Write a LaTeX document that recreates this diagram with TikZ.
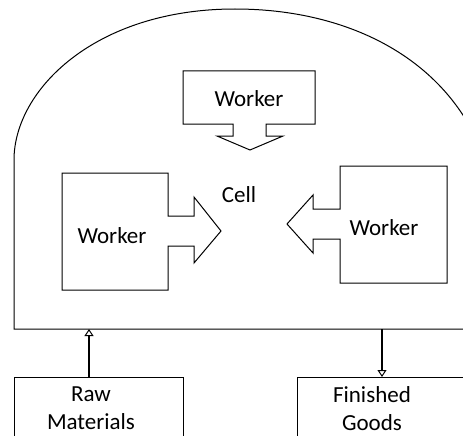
\documentclass[tikz,border=0pt]{standalone}
\usepackage{fontspec}
\setmainfont{Carlito}
\usetikzlibrary{arrows.meta}
\begin{document}
\begin{tikzpicture}[x=1pt,y=-1pt,line width=1pt,
    txt/.style={font=\fontsize{23}{28}\selectfont,align=center,inner sep=0pt},
    feed/.style={line width=2.6pt,-{Triangle[open,length=7pt,width=9pt,line width=1pt]}}]
    \clip (0,0) rectangle (463,436);
    % the cell
    \draw (500,329) -- (14,329) -- (14,160)
        .. controls (14,90) and (95,9) .. (235,9)
        .. controls (350,9) and (450,60) .. (485,160) -- (500,329);
    \coordinate (rawin) at (89,329);
    \coordinate (finout) at (382,329);
    \node[txt] (cell) at (239,195) {Cell};
    % workers
    \draw (183,71) -- (315,71) -- (315,124) -- (266,124) -- (266,136) -- (283,136)
        -- (250,150) -- (217,136) -- (233,136) -- (233,124) -- (183,124) -- cycle;
    \node[txt] (topworker) at (249,99) {Worker};
    \draw (62,173) -- (168,173) -- (168,216) -- (194,216) -- (194,197) -- (221,231)
        -- (194,263) -- (194,246) -- (168,246) -- (168,290) -- (62,290) -- cycle;
    \node[txt] (leftworker) at (112,236) {Worker};
    \draw (340,166) -- (447,166) -- (447,283) -- (340,283) -- (340,239) -- (313,239)
        -- (313,253) -- (287,224) -- (313,195) -- (313,209) -- (340,209) -- cycle;
    \node[txt] (rightworker) at (384,228) {Worker};
    % inputs and outputs
    \node[draw,minimum width=169pt,minimum height=110pt,anchor=north west] (rawbox) at (14,377) {};
    \node[txt,anchor=north] (raw) at (91,386) {Raw\\Materials};
    \node[draw,minimum width=170pt,minimum height=110pt,anchor=north west] (finbox) at (297,377) {};
    \node[txt,anchor=north] (fin) at (372,386) {Finished\\Goods};
    \draw[feed] (rawbox.north -| rawin) -- (rawin);
    \draw[feed] (finout) -- (finbox.north -| finout);
\end{tikzpicture}
\end{document}
